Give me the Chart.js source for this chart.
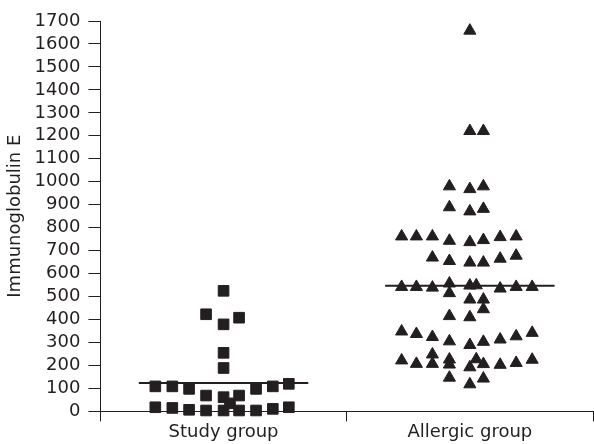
<!DOCTYPE html>
<html>
<head>
<meta charset="utf-8">
<script src="https://cdn.jsdelivr.net/npm/chart.js@4.4.1/dist/chart.umd.min.js"></script>
<style>
  body { margin: 0; background: #fff; }
</style>
</head>
<body>
<canvas id="igeChart" width="594" height="444"></canvas>
<script>
// groups and axis ticks
const groups = ['Study group', 'Allergic group'];
const yTickValues = [0, 100, 200, 300, 400, 500, 600, 700, 800, 900, 1000, 1100, 1200, 1300, 1400, 1500, 1600, 1700];

// study group: IgE values and their horizontal spread inside the column
const studyValues = [525, 423, 408, 379, 255, 189,
    109, 109, 98, 69, 62, 69, 98, 109, 120,
    18, 15, 7, 4, 4, 4, 4, 11, 18, 35];
const studySpread = [0, -0.071, 0.063, 0, 0, 0,
    -0.277, -0.208, -0.140, -0.071, 0, 0.063, 0.132, 0.2, 0.265,
    -0.277, -0.208, -0.140, -0.071, 0, 0.063, 0.132, 0.2, 0.265, 0.026];

// allergic group
const allergicValues = [1658, 1221, 1221, 980, 968, 980, 889, 871, 882,
    762, 762, 762, 743, 737, 746, 759, 762,
    670, 655, 648, 648, 665, 678,
    542, 542, 539, 557, 515, 548, 549, 487, 487, 535, 542, 542,
    445, 415, 410,
    348, 337, 324, 305, 289, 303, 313, 327, 342,
    222, 207, 248, 207, 226, 204, 147, 192, 227, 118, 206, 143, 203, 211, 225];
const allergicSpread = [0, 0, 0.055, -0.083, 0, 0.055, -0.083, 0, 0.055,
    -0.277, -0.217, -0.152, -0.083, 0, 0.055, 0.123, 0.188,
    -0.152, -0.083, 0, 0.055, 0.123, 0.188,
    -0.277, -0.217, -0.152, -0.083, -0.083, 0, 0.026, 0, 0.055, 0.123, 0.188, 0.253,
    0.055, -0.083, 0,
    -0.277, -0.217, -0.152, -0.083, 0, 0.055, 0.123, 0.188, 0.253,
    -0.277, -0.217, -0.152, -0.152, -0.083, -0.083, -0.083, 0, 0.026, 0, 0.055, 0.055, 0.123, 0.188, 0.253];

// median lines
const medians = [124, 547];
const medianHalfWidth = 0.344;

const ink = '#231f20';
const font = { family: 'DejaVu Sans', size: 18 };

function points(groupIndex, values, spread) {
    return values.map((v, i) => ({ x: groupIndex + 0.5 + spread[i], y: v }));
}

function medianLine(groupIndex) {
    const c = groupIndex + 0.5;
    return [{ x: c - medianHalfWidth, y: medians[groupIndex] }, { x: c + medianHalfWidth, y: medians[groupIndex] }];
}

const ctx = document.getElementById('igeChart').getContext('2d');
const chart = new Chart(ctx, {
    type: 'scatter',
    data: {
        datasets: [
            {
                data: medianLine(0),
                showLine: true,
                borderColor: ink,
                borderWidth: 2,
                pointRadius: 0,
                clip: false
            },
            {
                data: medianLine(1),
                showLine: true,
                borderColor: ink,
                borderWidth: 2,
                pointRadius: 0,
                clip: false
            },
            {
                data: points(0, studyValues, studySpread),
                pointStyle: 'rect',
                pointRadius: 7.5,
                backgroundColor: ink,
                borderColor: ink,
                borderWidth: 1,
                clip: false
            },
            {
                data: points(1, allergicValues, allergicSpread),
                pointStyle: 'triangle',
                pointRadius: 7,
                backgroundColor: ink,
                borderColor: ink,
                borderWidth: 1,
                clip: false
            }
        ]
    },
    options: {
        responsive: false,
        animation: false,
        layout: {
            autoPadding: false,
            padding: { left: 1, right: 1, top: 21, bottom: 1 }
        },
        plugins: {
            legend: { display: false },
            tooltip: { enabled: false }
        },
        scales: {
            x: {
                type: 'linear',
                display: false,
                min: 0,
                max: 2
            },
            groupAxis: {
                type: 'category',
                position: 'bottom',
                labels: groups,
                offset: true,
                grid: {
                    offset: true,
                    drawOnChartArea: false,
                    tickLength: 10,
                    color: ink
                },
                border: { color: ink, width: 1 },
                ticks: {
                    color: ink,
                    font: font,
                    padding: 0,
                    maxRotation: 0
                }
            },
            y: {
                min: 0,
                max: 1700,
                afterBuildTicks: axis => {
                    axis.ticks = yTickValues.map(v => ({ value: v }));
                },
                grid: {
                    drawOnChartArea: false,
                    tickLength: 12,
                    color: ink
                },
                border: { color: ink, width: 1 },
                ticks: {
                    color: ink,
                    font: font,
                    padding: 8,
                    autoSkip: false,
                    callback: v => String(v)
                },
                title: {
                    display: true,
                    text: 'Immunoglobulin E',
                    color: ink,
                    font: font,
                    padding: { top: 4, bottom: 0 }
                }
            }
        }
    }
});
</script>
</body>
</html>
